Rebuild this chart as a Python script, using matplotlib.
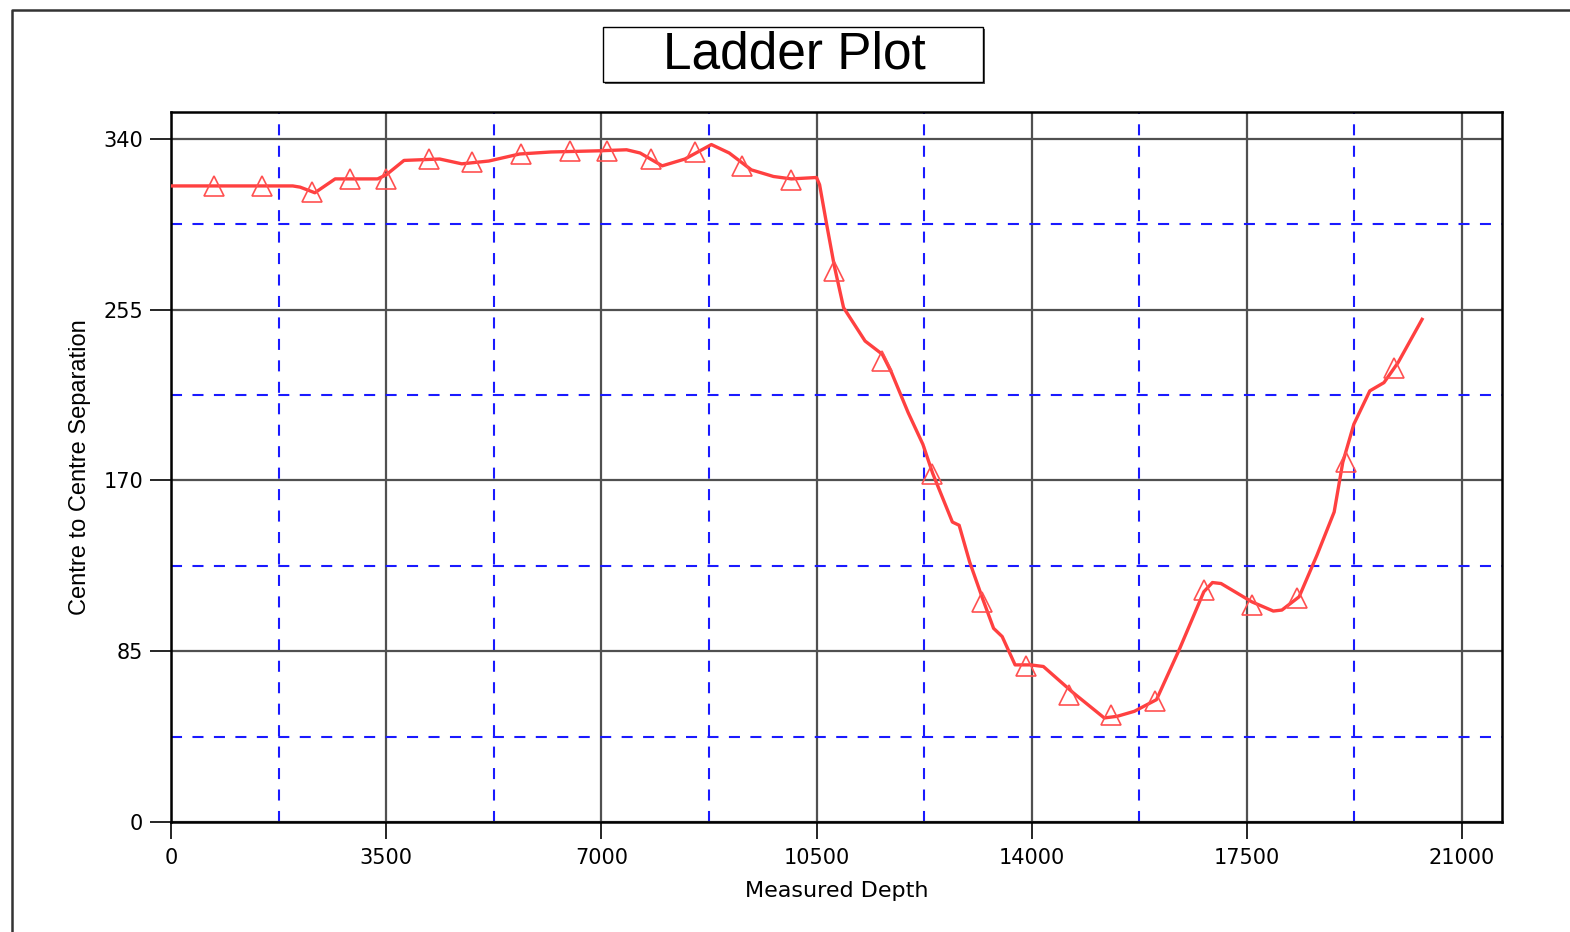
import matplotlib
matplotlib.use("Agg")
import matplotlib.pyplot as plt
from matplotlib.patches import Rectangle
from matplotlib.lines import Line2D
from matplotlib.ticker import MultipleLocator

# ---- data ----
line_x = [0, 1980, 2100, 2340, 2670, 3360, 3500, 3790, 4370, 4730, 5170, 5670,
          6180, 6980, 7410, 7630, 7990, 8360, 8790, 9080, 9440, 9800, 10090,
          10500, 10550, 10670, 10790, 10940, 11290, 11570, 11720, 11990, 12230,
          12390, 12710, 12820, 12990, 13200, 13380, 13520, 13730, 13980, 14190,
          14680, 15180, 15390, 15670, 16030, 16410, 16800, 16940, 17080, 17580,
          17930, 18070, 18350, 18640, 18920, 19060, 19240, 19500, 19730, 19960,
          20350]
line_y = [316.6, 316.6, 316.0, 313.2, 320.1, 320.1, 322.1, 329.3, 330.0, 327.6,
          329.0, 332.5, 333.5, 334.1, 334.6, 333.0, 326.6, 330.0, 337.2, 333.0,
          324.6, 321.3, 320.1, 320.8, 317.2, 296.6, 276.7, 256.0, 239.4, 232.8,
          223.7, 203.8, 188.0, 173.5, 149.3, 147.7, 129.5, 111.3, 96.4, 92.3,
          78.2, 78.2, 77.4, 64.2, 51.8, 52.6, 55.1, 60.9, 86.5, 114.6, 119.2,
          118.7, 109.6, 105.0, 105.5, 112.1, 132.8, 154.3, 179.0, 198.0, 214.6,
          218.7, 228.7, 250.2]

marker_x = [700, 1480, 2300, 2910, 3500, 4200, 4900, 5700, 6490, 7090, 7800,
            8520, 9290, 10090, 10790, 11570, 12380, 13190, 13900, 14600, 15290,
            16010, 16800, 17590, 18320, 19110, 19900]
marker_y = [316.6, 316.6, 313.5, 320.0, 320.0, 330.0, 328.5, 332.5, 333.8,
            333.8, 330.0, 333.6, 326.3, 319.8, 274.2, 229.5, 173.2, 109.6, 77.4,
            63.3, 53.1, 60.0, 115.5, 108.0, 111.3, 179.0, 226.2]

x_ticks = [0, 3500, 7000, 10500, 14000, 17500, 21000]
y_ticks = [0, 85, 170, 255, 340]

title = "Ladder Plot"
x_label = "Measured Depth"
y_label = "Centre to Centre Separation"

# ---- figure ----
W, H = 1570, 932
fig = plt.figure(figsize=(W / 100, H / 100), dpi=100)
fig.patch.set_facecolor("white")

def fx(px):
    return px / W

def fy(py):
    return 1 - py / H

ax = fig.add_axes([fx(171), fy(822), fx(1502) - fx(171), fy(112) - fy(822)])
ax.set_xlim(0, 21650)
ax.set_ylim(0, 353.4)

ax.set_xticks(x_ticks)
ax.set_yticks(y_ticks)
ax.xaxis.set_minor_locator(MultipleLocator(1750))
ax.yaxis.set_minor_locator(MultipleLocator(42.5))
ax.set_xticklabels([str(v) for v in x_ticks], fontsize=15, family="DejaVu Sans")
ax.set_yticklabels([str(v) for v in y_ticks], fontsize=15, family="DejaVu Sans")

ax.grid(which="major", color="#505050", linewidth=1.6, linestyle="-", zorder=1)
ax.grid(which="minor", color="#1a1aff", linewidth=1.5,
        linestyle=(0, (5.3, 5.0)), zorder=1)
ax.set_axisbelow(True)

ax.tick_params(axis="x", which="major", length=12, width=1.2, pad=7, color="black")
ax.tick_params(axis="y", which="major", length=15, width=1.2, pad=5, color="black")
ax.tick_params(which="minor", length=0)

for s in ax.spines.values():
    s.set_linewidth(1.8)
    s.set_color("black")

ax.plot(line_x, line_y, color="#ff4040", linewidth=2.4, zorder=3,
        solid_joinstyle="round")
ax.plot(marker_x, marker_y, linestyle="none", marker="^", markersize=14,
        markerfacecolor="none", markeredgecolor="#ff5050", markeredgewidth=1.2,
        zorder=4)

ax.set_xlabel(x_label, fontsize=16, family="DejaVu Sans", labelpad=9)
ax.set_ylabel(y_label, fontsize=17, family="Liberation Sans", labelpad=9)

# outer frame (top and left visible)
fig.add_artist(Line2D([fx(12), fx(12), 1.0], [0.0, fy(10), fy(10)],
                      transform=fig.transFigure, color="#333333", linewidth=1.8))

# title box with shadow
fig.add_artist(Rectangle((fx(605), fy(84)), fx(983) - fx(603), fy(27) - fy(82),
                         transform=fig.transFigure, facecolor="#555555",
                         edgecolor="none", zorder=5))
fig.add_artist(Rectangle((fx(603), fy(82)), fx(983) - fx(603), fy(27) - fy(82),
                         transform=fig.transFigure, facecolor="white",
                         edgecolor="black", linewidth=1.0, zorder=6))
fig.text(fx(794), fy(55), title, ha="center", va="center", fontsize=37,
         family="Liberation Sans", zorder=7)

fig.savefig("out.png", dpi=100)
